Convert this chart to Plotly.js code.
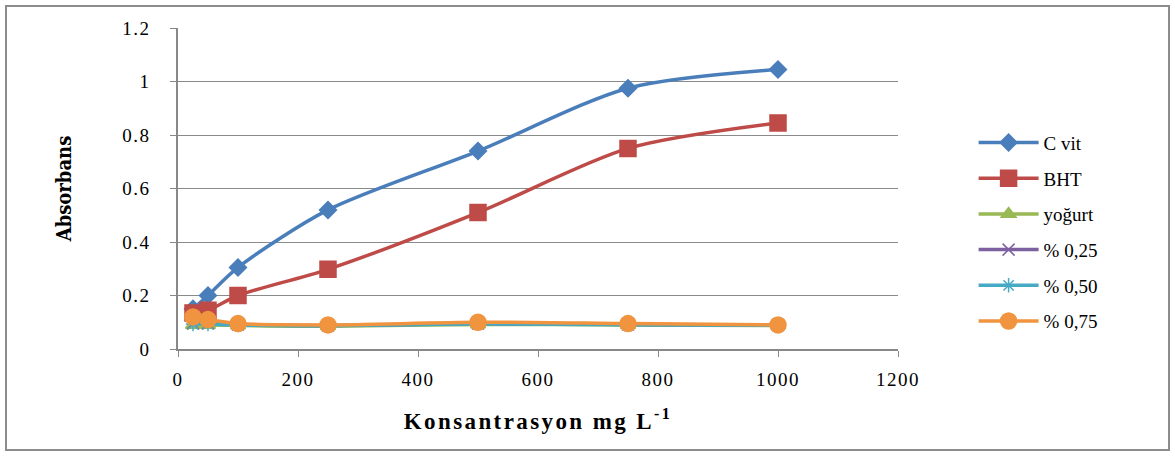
<!DOCTYPE html>
<html><head><meta charset="utf-8">
<script src="https://cdn.plot.ly/plotly-3.0.1.min.js"></script>
<style>
body{margin:0;background:#fff}#c{width:1175px;height:456px}
#c .xtick text,#c .ytick text{letter-spacing:1.5px}
#c .xtitle{letter-spacing:2.4px}
</style>
</head><body><div id="c"></div>
<script>
const concentrations = [25, 50, 100, 250, 500, 750, 1000];
const cVit = [0.15, 0.20, 0.305, 0.52, 0.74, 0.975, 1.045];
const bht = [0.135, 0.145, 0.20, 0.298, 0.51, 0.75, 0.845];
const yogurt = [0.09, 0.09, 0.088, 0.085, 0.092, 0.09, 0.088];
const p025 = [0.095, 0.095, 0.092, 0.088, 0.095, 0.092, 0.09];
const p050 = [0.093, 0.093, 0.09, 0.087, 0.094, 0.091, 0.089];
const p075 = [0.12, 0.11, 0.095, 0.09, 0.1, 0.095, 0.09];
const seriesNames = ["C vit", "BHT", "yoğurt", "% 0,25", "% 0,50", "% 0,75"];

const colors = ["#4a7ebb", "#be4b48", "#98b954", "#7d60a0", "#46aac5", "#f0943f"];
const symbols = ["diamond", "square", "triangle-up", "x-thin-open", "asterisk-open", "circle"];
const sizes = [13, 16, 13, 12, 12, 16];
const data = [cVit, bht, yogurt, p025, p050, p075];
const serif = "Liberation Serif";

const traces = data.map((ys, i) => ({
  x: concentrations, y: ys, name: seriesNames[i], type: "scatter", mode: "lines+markers",
  legendgroup: "g" + i,
  line: {color: colors[i], width: 3.5, shape: "spline", smoothing: 0.8},
  marker: {symbol: symbols[i], size: sizes[i], color: colors[i], line: {color: colors[i], width: 1.5}}
}));
const layout = {
  width: 1175, height: 456,
  margin: {l: 178, r: 277, t: 28, b: 107, autoexpand: false},
  paper_bgcolor: "#fff", plot_bgcolor: "#fff",
  font: {family: serif, size: 17, color: "#000"},
  xaxis: {range: [0, 1200], dtick: 200, showgrid: false, zeroline: false, automargin: false,
    showline: true, linecolor: "#888", linewidth: 1.5, ticks: "outside", ticklen: 6, tickcolor: "#888",
    tickfont: {size: 19, family: serif}, ticklabelstandoff: 6,
    title: {text: "<b>Konsantrasyon mg L<sup>-1</sup></b>", font: {size: 23, family: serif}, standoff: 24}},
  yaxis: {range: [0, 1.2], dtick: 0.2, showgrid: true, gridcolor: "#8a8a8a", gridwidth: 1, zeroline: false, automargin: false,
    showline: true, linecolor: "#888", linewidth: 1.5, ticks: "outside", ticklen: 6, tickcolor: "#888",
    tickfont: {size: 19, family: serif}, ticklabelstandoff: 16,
    title: {text: "<b>Absorbans</b>", font: {size: 20, family: "DejaVu Serif Condensed"}, standoff: 50}},
  legend: {x: 1.105, y: 0.364, xanchor: "left", yanchor: "middle", font: {size: 19, family: serif},
    tracegroupgap: 8, traceorder: "grouped", itemwidth: 60, bgcolor: "rgba(0,0,0,0)"}
};
Plotly.newPlot("c", traces, layout, {displayModeBar: false}).then(() => {
  const svg = document.querySelector("#c svg.main-svg");
  const r = document.createElementNS("http://www.w3.org/2000/svg", "rect");
  r.setAttribute("x", 6); r.setAttribute("y", 6); r.setAttribute("width", 1163); r.setAttribute("height", 444);
  r.setAttribute("fill", "none"); r.setAttribute("stroke", "#8c8c8c"); r.setAttribute("stroke-width", 2);
  svg.appendChild(r);
});
</script></body></html>
